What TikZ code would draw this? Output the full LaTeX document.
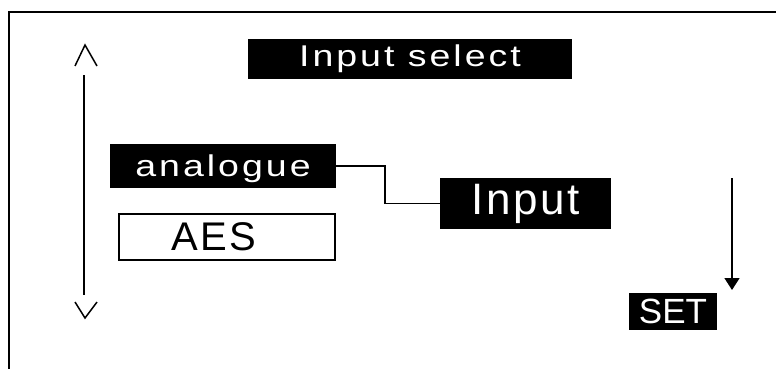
\documentclass[tikz,border=0pt]{standalone}
\usepackage{fontspec}
\setmainfont{Liberation Sans}
\newfontfamily\lcdwide[FakeStretch=1.25,LetterSpace=10]{Liberation Sans}
\newfontfamily\lcdfont[LetterSpace=6]{Liberation Sans}
\usetikzlibrary{arrows.meta}
\begin{document}
\begin{tikzpicture}[x=1pt,y=-1pt,inner sep=0pt,outer sep=0pt,line width=1.5pt,
lcdbox/.style={fill=black,text=white,rectangle,inner sep=0pt},
selbox/.style={draw,fill=white,rectangle,inner sep=0pt,line width=2pt}]
\useasboundingbox (0,0) rectangle (776,369);
% screen edge
\draw[line width=2pt] (9,369) -- (9,12) -- (776,12);
% menu entries
\draw (410,59) node[lcdbox,minimum width=324pt,minimum height=40pt] (title) {\lcdwide\fontsize{30}{30}\selectfont Input select};
\draw (223,166) node[lcdbox,minimum width=226pt,minimum height=44pt,text depth=0pt] (analogue) {\lcdwide\fontsize{30}{30}\selectfont analogue};
\draw (227,237) node[selbox,minimum width=216pt,minimum height=46pt] (aes) {\lcdfont\fontsize{40}{40}\selectfont AES\kern26pt};
\draw (525.5,203.5) node[lcdbox,minimum width=171pt,minimum height=51pt] (input) {\lcdfont\fontsize{44}{44}\selectfont Input};
\draw (673,311.5) node[lcdbox,minimum width=88pt,minimum height=37pt] (set) {\fontsize{35}{35}\selectfont SET};
\draw (analogue.east) -- ++(49,0) |- (input.west);
% scroll bar with up/down marks
\coordinate (scroll top) at (84,75);
\coordinate (scroll bot) at (84,295);
\draw (scroll top) -- (scroll bot);
\draw[line width=1.5pt] (75,66) -- (85,45) -- (97,66);
\draw[line width=1.5pt] (75,302) -- (85,318) -- (97,302);
% confirm arrow
\coordinate (confirm) at (732,178);
\draw[-{Triangle[width=15pt,length=12pt]}] (confirm) -- ++(0,112);
\end{tikzpicture}
\end{document}
